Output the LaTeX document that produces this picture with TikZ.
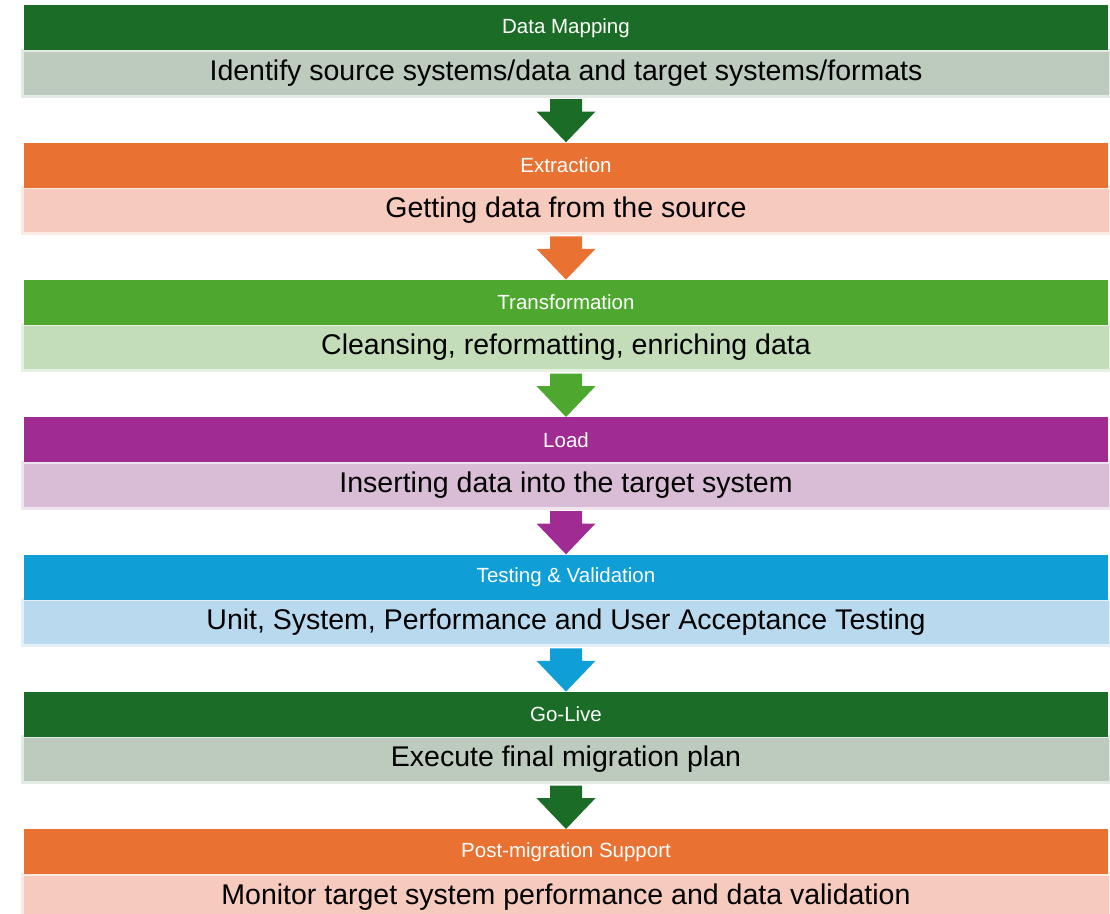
\documentclass[tikz,border=0pt]{standalone}
\usepackage{fontspec}
\setmainfont{Liberation Sans}
\usetikzlibrary{calc}
\definecolor{dgreen}{HTML}{1B6C26}
\definecolor{dgreenL}{HTML}{BCCBBD}
\definecolor{orng}{HTML}{E97132}
\definecolor{orngL}{HTML}{F6CABC}
\definecolor{lgreen}{HTML}{4EA72E}
\definecolor{lgreenL}{HTML}{C3DDB9}
\definecolor{purp}{HTML}{A02B93}
\definecolor{purpL}{HTML}{D9BCD5}
\definecolor{blu}{HTML}{0F9ED5}
\definecolor{bluL}{HTML}{B8D9EE}
\tikzset{
  hdr/.style={draw=none, minimum width=1084pt, minimum height=45pt, inner sep=0pt, text=white, font=\fontsize{20.5}{24}\selectfont, anchor=north},
  body/.style={minimum width=1088pt, minimum height=46pt, inner sep=0pt, line width=3pt, text=black, font=\fontsize{28.5}{34}\selectfont, anchor=north},
}
\newcommand{\stagebox}[6]{%
  \node[body, fill=#5, draw=#5!40!white] (b#1) at (566,{-#2-43.5}) {#6};
  \node[hdr, fill=#3] (h#1) at (566,-#2) {#4};
}
\newcommand{\stagearrow}[3]{%
  \fill[#3] ($(#1.south)+(-16pt,-1.5pt)$) -- ($(#1.south)+(16pt,-1.5pt)$) -- ($(#1.south)+(16pt,-14pt)$)
    -- ($(#1.south)+(29.5pt,-14pt)$) -- (#2.north) -- ($(#1.south)+(-29.5pt,-14pt)$)
    -- ($(#1.south)+(-16pt,-14pt)$) -- cycle;
}
\begin{document}
\begin{tikzpicture}[x=1pt,y=1pt]
\useasboundingbox (0,0) rectangle (1110,-913);
\clip (0,0) rectangle (1110,-913);
\stagebox{1}{5}{dgreen}{Data Mapping}{dgreenL}{Identify source systems/data and target systems/formats}
\stagebox{2}{142.3}{orng}{Extraction}{orngL}{Getting data from the source}
\stagebox{3}{279.6}{lgreen}{Transformation}{lgreenL}{Cleansing, reformatting, enriching data}
\stagebox{4}{417}{purp}{Load}{purpL}{Inserting data into the target system}
\stagebox{5}{554.3}{blu}{Testing \& Validation}{bluL}{Unit, System, Performance and User Acceptance Testing}
\stagebox{6}{691.6}{dgreen}{Go-Live}{dgreenL}{Execute final migration plan}
\stagebox{7}{829}{orng}{Post-migration Support}{orngL}{Monitor target system performance and data validation}
\stagearrow{b1}{h2}{dgreen}
\stagearrow{b2}{h3}{orng}
\stagearrow{b3}{h4}{lgreen}
\stagearrow{b4}{h5}{purp}
\stagearrow{b5}{h6}{blu}
\stagearrow{b6}{h7}{dgreen}
\end{tikzpicture}
\end{document}
